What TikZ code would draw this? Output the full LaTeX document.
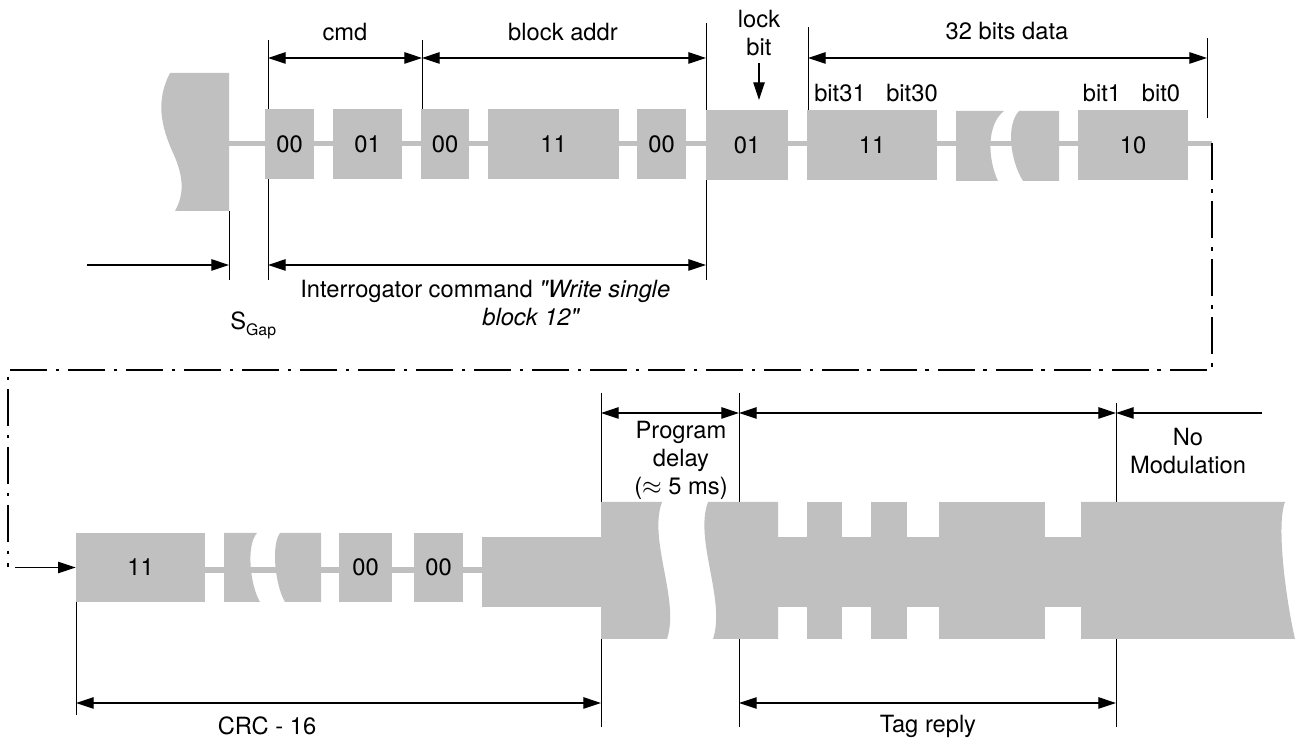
\documentclass[tikz,border=0pt]{standalone}
\usepackage{fontspec}
\setmainfont{TeX Gyre Heros}
\usetikzlibrary{positioning, arrows.meta}
\definecolor{siggray}{RGB}{192,192,192}

\begin{document}
\begin{tikzpicture}[
    x=0.02cm, y=-0.02cm,
    every node/.style={font=\fontsize{13.5}{16}\selectfont},
    bitbox/.style={fill=siggray, inner sep=0pt, minimum height=1.4cm},
    sigline/.style={draw=siggray, line width=3pt},
    ext/.style={line width=0.5pt},
    dim/.style={{Triangle[length=10pt,width=6.5pt]}-{Triangle[length=10pt,width=6.5pt]}, line width=0.6pt},
    arr/.style={-{Triangle[length=10pt,width=6.5pt]}, line width=0.6pt},
    lbl/.style={inner sep=0pt, align=center},
    link/.style={line width=0.8pt, dash pattern=on 21pt off 5pt on 2pt off 5pt}
]
\useasboundingbox (0,0) rectangle (1296,742);

% Dimension rows
\coordinate (dimT) at (0,58);
\coordinate (dimB) at (0,265);
\coordinate (dimU) at (0,413);
\coordinate (dimL) at (0,703);

% Marks, upper frame
\coordinate (mCmdL) at (268,40);
\coordinate (mCmdR) at (422,40);
\coordinate (mLock) at (706,23);
\coordinate (mDatL) at (808,27);
\coordinate (mDatR) at (1207,38);
\coordinate (mGap)  at (229,211);
\coordinate (gapS)  at (87,265);
\coordinate (lockA) at (759,63);
\coordinate (lockB) at (759,100);

% Marks, lower frame
\coordinate (mPgL) at (601,393);
\coordinate (mPgR) at (739,393);
\coordinate (mNoM) at (1116,403);
\coordinate (mCrc) at (76,602);
\coordinate (noModE) at (1262,413);
\coordinate (inArr) at (15,567.5);

% Extension lines
\draw[ext] (mCmdL) -- (mCmdL |- 0,280);
\draw[ext] (mCmdR) -- (mCmdR |- 0,109);
\draw[ext] (mLock) -- (mLock |- 0,280);
\draw[ext] (mDatL) -- (mDatL |- 0,110);
\draw[ext] (mDatR) -- (mDatR |- 0,118);
\draw[ext] (mGap)  -- (mGap |- 0,280);
\draw[ext] (mPgL)  -- (mPgL |- 0,727);
\draw[ext] (mPgR)  -- (mPgR |- 0,727);
\draw[ext] (mNoM)  -- (mNoM |- 0,727);
\draw[ext] (mCrc)  -- (mCrc |- 0,715);

% Dimension arrows
\draw[dim] (mCmdL |- dimT) -- (mCmdR |- dimT);
\draw[dim] (mCmdR |- dimT) -- (mLock |- dimT);
\draw[dim] (mDatL |- dimT) -- (mDatR |- dimT);
\draw[arr] (lockA) -- (lockB);
\draw[arr] (gapS) -- (mGap |- dimB);
\draw[dim] (mCmdL |- dimB) -- (mLock |- dimB);
\draw[dim] (mPgL |- dimU) -- (mPgR |- dimU);
\draw[dim] (mPgR |- dimU) -- (mNoM |- dimU);
\draw[arr] (noModE) -- (mNoM |- dimU);
\draw[dim] (mCrc |- dimL) -- (mPgL |- dimL);
\draw[dim] (mPgR |- dimL) -- (mNoM |- dimL);

% Upper frame: interrogator command
\coordinate (topS) at (229,143.5);
\coordinate (topE) at (1212,143.5);
\draw[sigline] (topS) -- (topE);
\fill[siggray] (170,73) .. controls (156,100) and (160,125) .. (174,155)
    .. controls (184,178) and (184,195) .. (175,211) -- (229,211) -- (229,73) -- cycle;

\node[bitbox, minimum width=0.98cm] (c1) at (289.5,144) {00};
\node[bitbox, minimum width=1.38cm] (c2) at (367.5,144) {01};
\node[bitbox, minimum width=0.96cm] (a1) at (445,144) {00};
\node[bitbox, minimum width=2.62cm] (a2) at (553.5,144) {11};
\node[bitbox, minimum width=0.98cm] (a3) at (661.5,144) {00};
\node[bitbox, minimum width=1.64cm] (lk) at (747,145.5) {01};
\node[bitbox, minimum width=2.6cm]  (d1) at (872,145.5) {11};
\node[bitbox, minimum width=2.2cm]  (d2) at (1133,145.5) {10};

% break inside the data bits
\fill[siggray] (956,111) -- (1004,111) .. controls (986,125) and (988,160) .. (998,181) -- (956,181) -- cycle;
\fill[siggray] (1019,111) .. controls (1006,125) and (1010,160) .. (1023,181) -- (1059,181) -- (1059,111) -- cycle;

% Lower frame: CRC and tag reply
\draw[sigline] (205,570) -- (482,570);
\node[bitbox, minimum width=2.58cm, minimum height=1.38cm] (e1) at (140.5,567.5) {11};
\fill[siggray] (224,533) -- (257,533) .. controls (246,545) and (250,585) .. (260,602) -- (224,602) -- cycle;
\fill[siggray] (280,533) .. controls (271,545) and (275,585) .. (285,602) -- (321,602) -- (321,533) -- cycle;
\node[bitbox, minimum width=1.06cm, minimum height=1.38cm] (e2) at (365.5,567.5) {00};
\node[bitbox, minimum width=0.98cm, minimum height=1.38cm] (e3) at (438.5,567.5) {00};

\fill[siggray] (482,537) rectangle (601,607);
\fill[siggray] (601,502) -- (662,502) .. controls (648,540) and (680,600) .. (667,639) -- (601,639) -- cycle;
\fill[siggray] (708,502) .. controls (694,540) and (726,600) .. (713,639) -- (778,639) -- (778,502) -- cycle;
\fill[siggray] (740,537) rectangle (1100,607);
\fill[siggray] (807,502) rectangle (842,639);
\fill[siggray] (871,502) rectangle (907,639);
\fill[siggray] (939,502) rectangle (1045,639);
\fill[siggray] (1081,502) -- (1285,502) .. controls (1276,525) and (1286,600) .. (1295,639) -- (1081,639) -- cycle;

\draw[arr] (inArr) -- (e1.west);

% Labels
\node[lbl, anchor=base] (tCmd) at (345,41) {cmd};
\node[lbl, anchor=base] (tAddr) at (563,41) {block addr};
\node[lbl, anchor=north] (tLock) at (759,10) {lock\\bit};
\node[lbl, anchor=base] (tData) at (1007,40) {32 bits data};
\node[lbl, anchor=base] (tB31) at (840,102) {bit31};
\node[lbl, anchor=base] (tB30) at (912,102) {bit30};
\node[lbl, anchor=base] (tB1) at (1102,102) {bit1};
\node[lbl, anchor=base] (tB0) at (1161,102) {bit0};
\node[lbl, anchor=base west] (tGap) at (230,330) {S\raisebox{-0.45ex}{\fontsize{9}{9}\selectfont Gap}};
\node[lbl, anchor=north west, align=left] (tCmdLong) at (300,280)
    {Interrogator command \textit{\textquotedbl Write single}\\\hspace*{3.64cm}\textit{block 12\textquotedbl}};
\node[lbl, anchor=north] (tDelay) at (681,421) {Program\\delay\\($\approx$ 5 ms)};
\node[lbl, anchor=north] (tNoMod) at (1188,428) {No\\Modulation};
\node[lbl, anchor=base] (tCrc) at (267,735) {CRC - 16};
\node[lbl, anchor=base] (tReply) at (928,733) {Tag reply};

% Link between the two frames
\coordinate (lnkB) at (8,370);
\coordinate (lnkC) at (8,567);
\draw[link] (topE) |- (lnkB) -- (lnkC);
\end{tikzpicture}
\end{document}
